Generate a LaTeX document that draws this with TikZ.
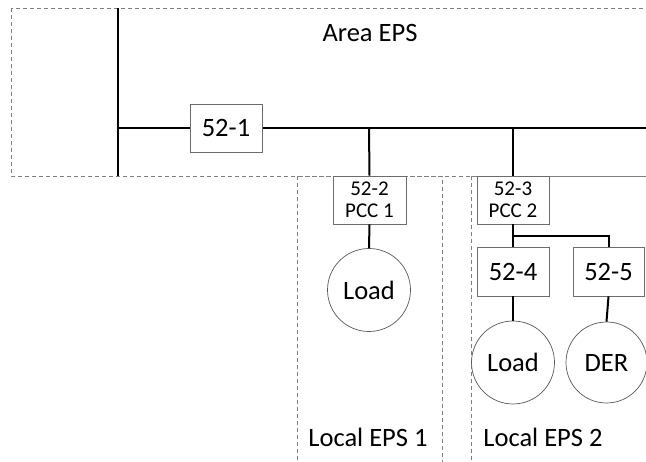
\documentclass[tikz,border=0pt]{standalone}
\usepackage{fontspec}
\setmainfont{Carlito}
\begin{document}
\begin{tikzpicture}[x=1pt,y=-1pt,
  bus/.style={line width=2.6pt, black},
  wire/.style={line width=2pt, black},
  zone/.style={draw=gray, dash pattern=on 4pt off 3pt, line width=0.8pt},
  brk/.style={draw=gray!85!black, line width=0.8pt, fill=white, minimum width=72pt, minimum height=48pt, inner sep=0pt, font=\fontsize{26.5}{31}\selectfont},
  pcc/.style={brk, font=\fontsize{21}{22}\selectfont, align=center},
  dev/.style={circle, draw=gray!70!black, line width=0.7pt, fill=white, minimum size=83pt, inner sep=0pt, font=\fontsize{26.5}{31}\selectfont},
  lbl/.style={inner sep=0pt, font=\fontsize{26.5}{31}\selectfont}]
\useasboundingbox (0,0) rectangle (646,462);
\clip (0,0) rectangle (646,462);
% zones
\draw[zone] (11,8) rectangle (670,176);
\draw[zone] (297,176) rectangle (442,475);
\draw[zone] (471,176) rectangle (670,475);
\node[lbl] (area) at (370,33) {Area EPS};
\node[lbl] (l1) at (368,437) {Local EPS 1};
\node[lbl] (l2) at (543,437) {Local EPS 2};
% bus
\coordinate (bt) at (118,8);
\coordinate (bb) at (118,176);
\coordinate (bl) at (118,128);
\coordinate (br) at (670,128);
\coordinate (t2) at (369,128);
\coordinate (t3) at (513,128);
\draw[bus] (bt) -- (bb);
\draw[bus] (bl) -- (br);
\node[brk] (b1) at (226,128) {52-1};
% branches
\node[pcc, minimum width=73pt] (b2) at (369.5,200) {52-2\\PCC 1};
\node[pcc] (b3) at (513,200) {52-3\\PCC 2};
\coordinate (j) at (513,236);
\node[brk, minimum height=49pt] (b4) at (513,271.5) {52-4};
\node[brk, minimum width=71pt, minimum height=49pt] (b5) at (608.5,271.5) {52-5};
\node[dev] (load1) at (369,290) {Load};
\node[dev] (load2) at (513,362.5) {Load};
\node[dev, minimum size=81pt] (der) at (606.5,362.5) {DER};
\draw[wire] (t2) -- (b2.north);
\draw[wire] (t3) -- (b3.north);
\draw[wire] (b3.south) -- (b4.north);
\draw[wire] (j) -| (b5.north);
\draw[wire] (b2.south) -- (load1.north);
\draw[wire] (b4.south) -- (load2.north);
\draw[wire] (b5.south) -- (der.north);
\end{tikzpicture}
\end{document}
